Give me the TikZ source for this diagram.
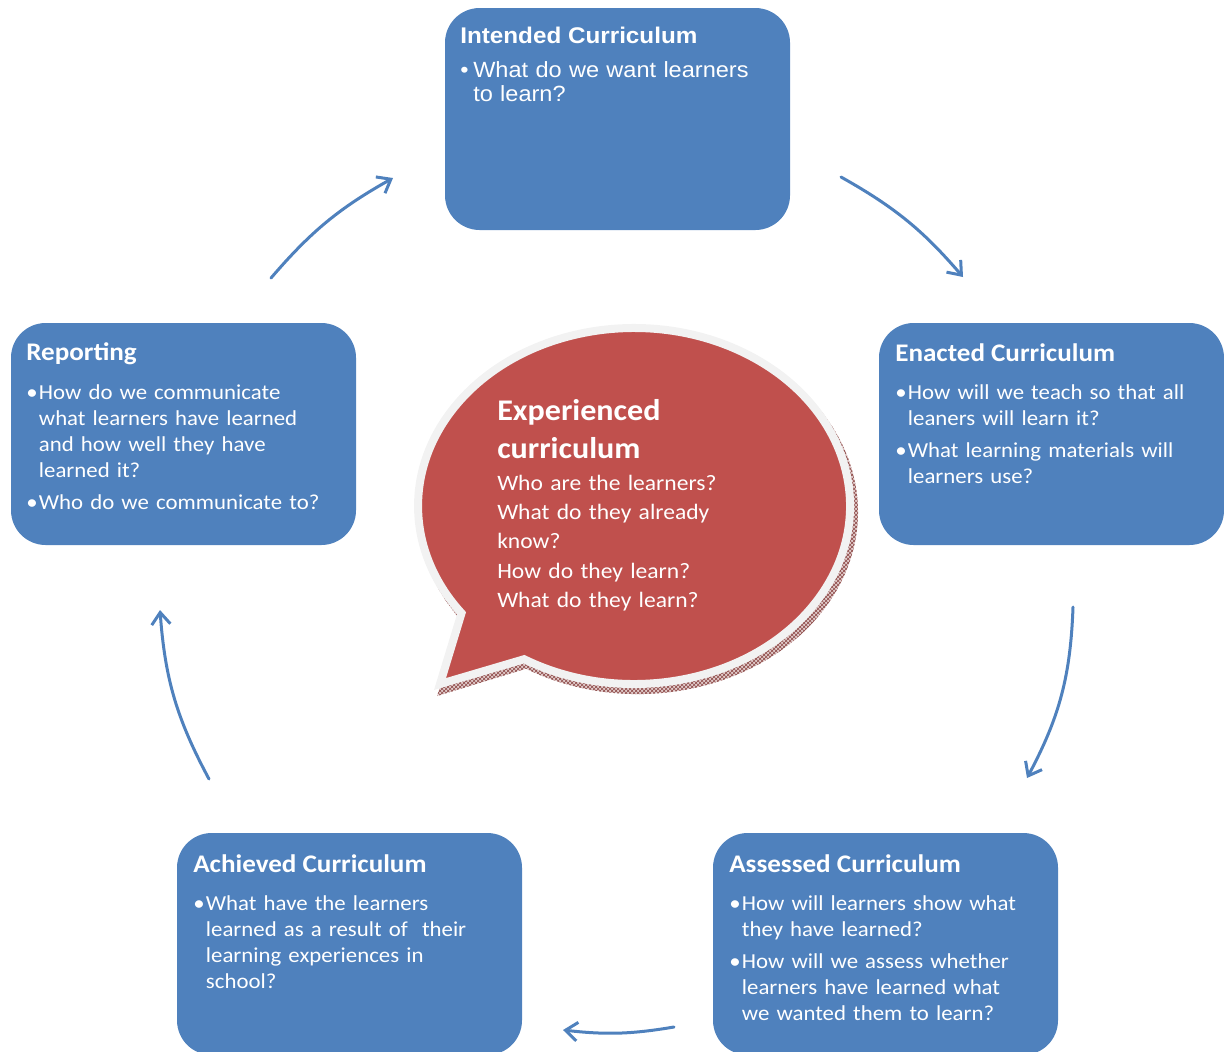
\documentclass[tikz,border=0pt]{standalone}
\usepackage{fontspec}
\setmainfont{Carlito}[FakeStretch=1.07]
\newfontfamily\arialfont{Liberation Sans}[FakeStretch=1.07]
\usetikzlibrary{arrows.meta,patterns}

\definecolor{boxblue}{RGB}{79,129,189}
\definecolor{bubblered}{RGB}{192,80,77}
\definecolor{bubbleedge}{RGB}{242,242,242}
\definecolor{shadowline}{RGB}{140,72,70}
\definecolor{shadowfill}{RGB}{226,204,204}

% bullet paragraph with hanging indent; lines broken by \newline
\newcommand{\bitem}[2][9.5pt]{\hangindent=#1\hangafter=1\noindent\makebox[#1][l]{•}#2\par}

\begin{document}
\begin{tikzpicture}[x=0.75pt,y=-0.75pt,
  stage/.style={fill=boxblue, draw=none, rounded corners=26pt,
    minimum width=258.75pt, minimum height=166.5pt, inner sep=0pt},
  heading/.style={anchor=base west, inner sep=0pt, text=white,
    font=\fontsize{19pt}{22pt}\selectfont\bfseries},
  points/.style={anchor=base west, inner sep=0pt, text=white,
    text width=255pt, align=left,
    font=\fontsize{16pt}{19.5pt}\selectfont,
    execute at begin node={\setlength{\parskip}{4.5pt}}},
  cyclearrow/.style={draw=boxblue, line width=2.25pt, line cap=round,
    -{Straight Barb[length=9pt,width=14pt]}},
]
\path[use as bounding box] (0,0) rectangle (1224,1051);
\clip (0,0) rectangle (1224,1051);

% ---- stage boxes ----
\node[stage] (intended) at (617.5,119) {};
\node[stage] (enacted)  at (1051.5,434) {};
\node[stage] (reporting) at (183.5,434) {};
\node[stage] (assessed) at (885.5,944) {};
\node[stage] (achieved) at (349.5,944) {};

% ---- box texts ----
\node[heading, font=\arialfont\fontsize{17pt}{20pt}\selectfont\bfseries] (intendedT) at (460,43) {Intended Curriculum};
\node[points, font=\arialfont\fontsize{16.5pt}{18pt}\selectfont] (intendedB) at (460,77)
  {\bitem[9.75pt]{What do we want learners\newline to learn?}};

\node[heading] (enactedT) at (895,361) {Enacted Curriculum};
\node[points] (enactedB) at (895,399)
  {\bitem{How will we teach so that all\newline leaners will learn it?}
   \bitem{What learning materials will\newline learners use?}};

\node[heading] (reportingT) at (26,360) {Reporting};
\node[points] (reportingB) at (26,399)
  {\bitem{How do we communicate\newline what learners have learned\newline and how well they have\newline learned it?}
   \bitem{Who do we communicate to?}};

\node[heading] (assessedT) at (729,872) {Assessed Curriculum};
\node[points] (assessedB) at (729,910)
  {\bitem{How will learners show what\newline they have learned?}
   \bitem{How will we assess whether\newline learners have learned what\newline we wanted them to learn?}};

\node[heading] (achievedT) at (193,872) {Achieved Curriculum};
\node[points] (achievedB) at (193,910)
  {\bitem{What have the learners\newline learned as a result of~ their\newline learning experiences in\newline school?}};

% ---- speech bubble: shadow, body, text ----
\fill[shadowfill, shift={(4,6)}]
  (522,662.7) arc[start angle=120.6, end angle=-217, x radius=220, y radius=182] -- (433,690) -- cycle;
\fill[pattern=crosshatch, pattern color=shadowline, shift={(4,6)}]
  (522,662.7) arc[start angle=120.6, end angle=-217, x radius=220, y radius=182] -- (433,690) -- cycle;
\path[fill=bubblered, draw=bubbleedge, line width=6pt, line join=miter]
  (524.1,659.2) arc[start angle=120.6, end angle=-217, x radius=216, y radius=178] -- (440,684) -- cycle;

\node[anchor=base west, inner sep=0pt, text=white, text width=250pt, align=left,
  font=\fontsize{22.5pt}{28.5pt}\selectfont\bfseries] (expT) at (497,420) {Experienced\\curriculum};
\node[anchor=base west, inner sep=0pt, text=white, text width=250pt, align=left,
  font=\fontsize{16.5pt}{22pt}\selectfont] (expB) at (497,490)
  {Who are the learners?\\What do they already\\know?\\How do they learn?\\What do they learn?};

% ---- cycle arrows ----
\coordinate (a1s) at (271,278);  \coordinate (a1e) at (393,178);
\coordinate (a2s) at (841,177);  \coordinate (a2e) at (963,277);
\coordinate (a3s) at (1073,607); \coordinate (a3e) at (1027,778);
\coordinate (a4s) at (674,1027); \coordinate (a4e) at (563,1030);
\coordinate (a5s) at (209,779);  \coordinate (a5e) at (160,610);

\draw[cyclearrow] (a1s) to[bend left=10] (a1e);
\draw[cyclearrow] (a2s) to[bend left=10] (a2e);
\draw[cyclearrow] (a3s) to[bend left=13] (a3e);
\draw[cyclearrow] (a4s) to[bend left=8] (a4e);
\draw[cyclearrow] (a5s) to[bend left=12] (a5e);
\end{tikzpicture}
\end{document}
